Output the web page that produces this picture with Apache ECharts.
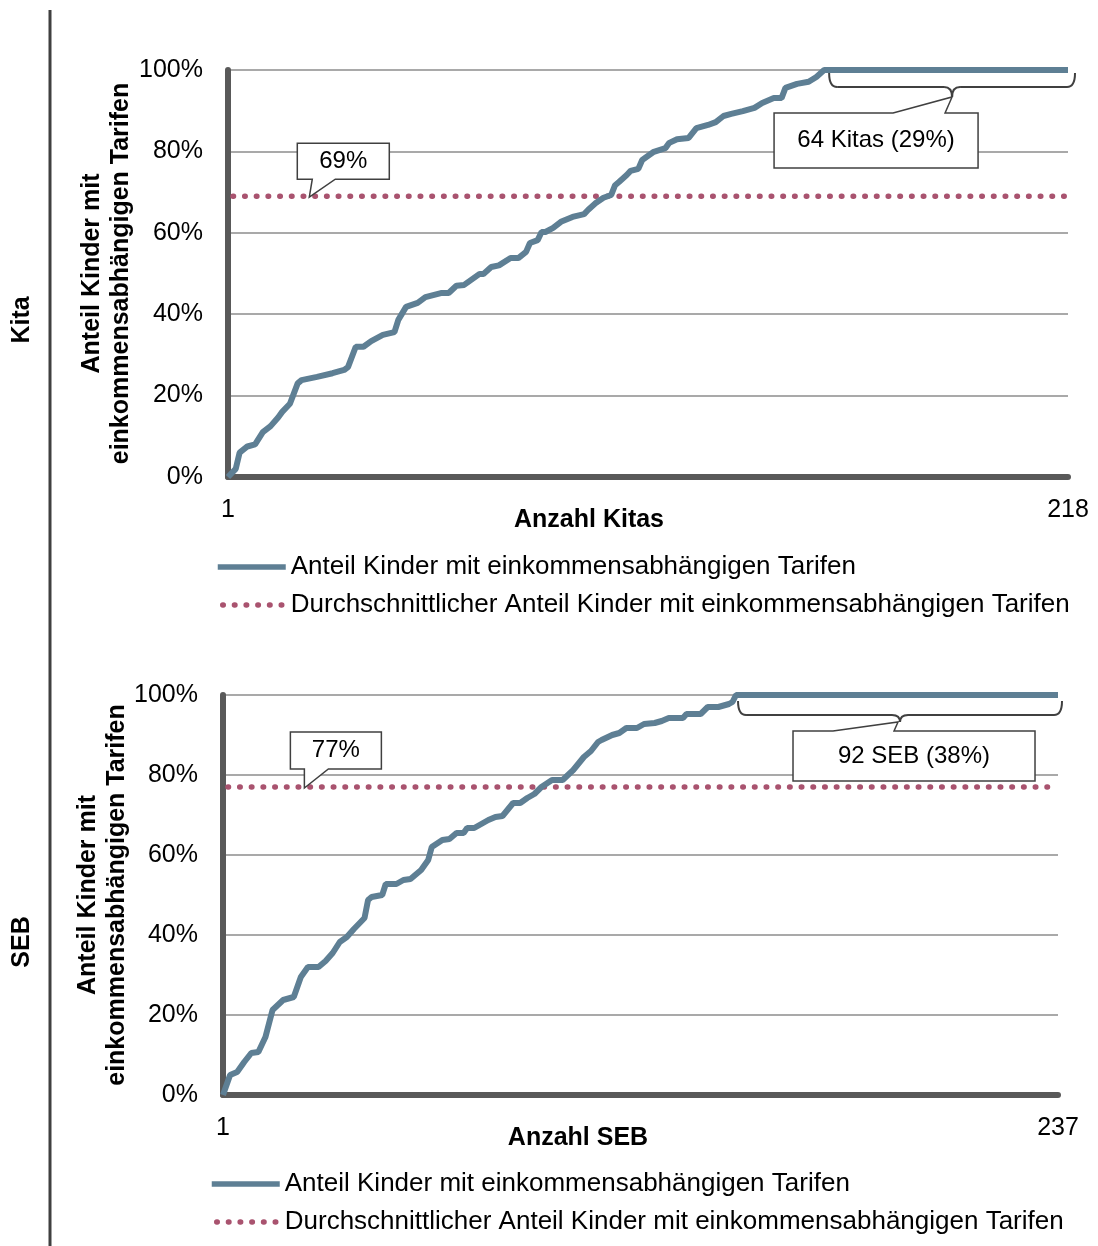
<!DOCTYPE html>
<html>
<head>
<meta charset="utf-8">
<script src="https://cdn.jsdelivr.net/npm/echarts@6/dist/echarts.min.js"></script>
<style>html,body{margin:0;padding:0;background:#fff}#c{width:1098px;height:1246px}</style>
</head>
<body>
<div id="c"></div>
<script>
// ---------- data ----------
const seriesNames = ['Anteil Kinder mit einkommensabhängigen Tarifen',
                     'Durchschnittlicher Anteil Kinder mit einkommensabhängigen Tarifen'];
const panelLabels = ['Kita', 'SEB'];
const yAxisTitle = 'Anteil Kinder mit\neinkommensabhängigen Tarifen';
const xAxisTitles = ['Anzahl Kitas', 'Anzahl SEB'];

const kitaCount = 218;
const kitaMean = 69;
const kitaN = [1,3,4,6,8,10,12,14,15,17,19,20,24,28,31,32,34,36,38,41,44,45,47,50,52,56,58,60,62,66,67,69,71,74,76,78,79,81,82,83,85,87,90,93,94,96,98,100,101,102,104,105,107,108,111,114,115,117,120,122,125,127,129,131,134,137,139,142,144,145,148,151,153,155,218];
const kitaShare = [0,2,6,7.5,8,11,12.5,14.7,16,18,23,23.8,24.6,25.5,26.3,27,32,32,33.4,34.9,35.6,38.6,41.8,42.8,44.2,45.2,45.2,47,47.2,49.9,49.9,51.6,52,53.8,53.8,55.3,57.5,58.2,60.2,60.2,61.2,62.7,63.9,64.6,65.6,67.3,68.6,69.3,71.7,72.5,74.2,75.2,75.7,77.9,79.9,80.8,82.1,83,83.3,85.7,86.5,87.2,88.7,89.2,89.9,90.7,91.9,93.1,93.1,95.6,96.6,97.1,98.3,100,100];
const kitaFullStart = 155;
const kitaCallout = '64 Kitas (29%)';

const sebCount = 237;
const sebMean = 77;
const sebN = [1,3,5,7,9,11,13,15,18,21,23,25,28,30,32,34,36,38,41,42,43,46,47,50,52,54,57,59,60,63,65,67,69,70,72,75,76,78,80,83,85,87,89,91,94,97,100,103,105,107,108,111,113,115,118,120,123,125,127,131,132,136,138,141,144,145,146,237];
const sebShare = [0,5,5.75,8.25,10.5,10.75,14.5,21.25,23.75,24.5,29.5,32,32,33.5,35.5,38.25,39.5,41.5,44.25,48.75,49.5,50,52.75,52.75,53.75,54,56.25,58.75,62,63.75,64,65.5,65.5,66.75,66.75,68.25,68.75,69.5,69.75,73,73,74.25,75.25,77,78.75,78.75,81.25,84.5,86,88.25,88.75,90,90.5,91.75,91.75,92.75,93,93.5,94.25,94.25,95.25,95.25,97,97,97.75,98.25,100,100];
const sebFullStart = 146;
const sebCallout = '92 SEB (38%)';

const yTicks = [0, 20, 40, 60, 80, 100];

// ---------- styling ----------
const FF = '"Liberation Sans", Arial, Helvetica, sans-serif';
const LINE_C = '#5E7F94';
const MEAN_C = '#A9536F';
const AXIS_C = '#595959';
const GRID_C = '#8c8c8c';
const DARK = '#404040';

const zip = (a, b) => a.map((v, i) => [v, b[i]]);

function xAx(gi, max, name, padRight) {
  return {
    type: 'value', gridIndex: gi, min: 1, max: max,
    axisLine: { show: true, onZero: false, lineStyle: { color: AXIS_C, width: 6 } },
    axisTick: { show: false }, splitLine: { show: false },
    axisLabel: { customValues: [1, max], margin: 21, fontSize: 25, color: '#000', fontFamily: FF },
    name: name, nameLocation: 'middle', nameGap: 31, nameMoveOverlap: false,
    nameTextStyle: { fontWeight: 'bold', fontSize: 25, color: '#000', fontFamily: FF, padding: [0, padRight, 0, 0] }
  };
}
function yAx(gi, gap) {
  return {
    type: 'value', gridIndex: gi, min: yTicks[0], max: yTicks[yTicks.length - 1], interval: 20,
    axisLine: { show: true, onZero: false, lineStyle: { color: AXIS_C, width: 6 } },
    axisTick: { show: false },
    splitLine: { show: true, lineStyle: { color: GRID_C, width: 1.5 } },
    axisLabel: { formatter: '{value}%', fontSize: 25, margin: 25, color: '#000', fontFamily: FF },
    name: yAxisTitle, nameLocation: 'middle', nameGap: gap, nameMoveOverlap: false,
    nameTextStyle: { fontWeight: 'bold', fontSize: 25, lineHeight: 29, color: '#000', fontFamily: FF }
  };
}
function legend(left, top) {
  return {
    orient: 'vertical', left: left, top: top, padding: 0, itemWidth: 68, itemHeight: 14, itemGap: 12,
    selectedMode: false, data: seriesNames,
    lineStyle: { width: 5.5 },
    itemStyle: { opacity: 0 },
    textStyle: { fontSize: 26, color: '#000', fontFamily: FF }
  };
}
function curve(gi, data) {
  return { type: 'line', name: seriesNames[0], xAxisIndex: gi, yAxisIndex: gi, data: data,
    symbol: 'none', clip: false, z: 3,
    lineStyle: { color: LINE_C, width: 6 }, itemStyle: { color: LINE_C } };
}
function meanLine(gi, count, mean) {
  return { type: 'line', name: seriesNames[1], xAxisIndex: gi, yAxisIndex: gi,
    data: [[1, mean], [count, mean]], symbol: 'none', clip: false, z: 2,
    lineStyle: { color: MEAN_C, width: 5.5, type: [0.5, 11.2], cap: 'round', dashOffset: -5 }, itemStyle: { color: MEAN_C } };
}

const chart = echarts.init(document.getElementById('c'));
chart.setOption({
  animation: false,
  textStyle: { fontFamily: FF },
  grid: [
    { left: 228, top: 70, width: 840, height: 407 },
    { left: 223, top: 695, width: 835, height: 400 }
  ],
  xAxis: [xAx(0, kitaCount, xAxisTitles[0], 118), xAx(1, sebCount, xAxisTitles[1], 125)],
  yAxis: [yAx(0, 92), yAx(1, 91)],
  legend: [legend(215, 554), legend(209, 1171)],
  series: [
    curve(0, zip(kitaN, kitaShare)), meanLine(0, kitaCount, kitaMean),
    curve(1, zip(sebN, sebShare)), meanLine(1, sebCount, sebMean)
  ]
});

// ---------- annotations ----------
const px = (g, x, y) => chart.convertToPixel({ gridIndex: g }, [x, y]);
const els = [];
els.push({ type: 'line', shape: { x1: 50, y1: 10, x2: 50, y2: 1246 }, style: { stroke: DARK, lineWidth: 3 } });
els.push({ type: 'text', x: 22, y: 320, rotation: Math.PI / 2,
  style: { text: panelLabels[0], font: 'bold 25px ' + FF, fill: '#000', align: 'center', verticalAlign: 'middle' } });
els.push({ type: 'text', x: 22, y: 942, rotation: Math.PI / 2,
  style: { text: panelLabels[1], font: 'bold 25px ' + FF, fill: '#000', align: 'center', verticalAlign: 'middle' } });

function callout(pts, cx, cy, text) {
  els.push({ type: 'polygon', shape: { points: pts }, style: { fill: '#fff', stroke: DARK, lineWidth: 1.5 }, z: 10 });
  els.push({ type: 'text', x: cx, y: cy, z: 11,
    style: { text: text, font: '24px ' + FF, fill: '#000', align: 'center', verticalAlign: 'middle' } });
}
function brace(x1, x2, top, base, tip) {
  const r = 8, m = (x1 + x2) / 2;
  const st = { stroke: DARK, lineWidth: 2, fill: null };
  const segs = [
    { type: 'bezierCurve', shape: { x1: x1, y1: top, cpx1: x1, cpy1: base, x2: x1 + r, y2: base } },
    { type: 'line', shape: { x1: x1 + r, y1: base, x2: m - r, y2: base } },
    { type: 'bezierCurve', shape: { x1: m - r, y1: base, cpx1: m, cpy1: base, x2: m, y2: tip } },
    { type: 'bezierCurve', shape: { x1: m, y1: tip, cpx1: m, cpy1: base, x2: m + r, y2: base } },
    { type: 'line', shape: { x1: m + r, y1: base, x2: x2 - r, y2: base } },
    { type: 'bezierCurve', shape: { x1: x2 - r, y1: base, cpx1: x2, cpy1: base, x2: x2, y2: top } }
  ];
  segs.forEach(s => { s.style = st; s.z = 10; els.push(s); });
  return m;
}

// mean callouts (tail pointing down to the dotted line)
{
  const t = px(0, 22, kitaMean);
  const L = t[0] - 12, R = t[0] + 80, T = t[1] - 53, B = t[1] - 17;
  callout([[L, T], [R, T], [R, B], [t[0] + 26, B], [t[0], t[1] + 1], [t[0] + 3, B], [L, B]], (L + R) / 2, (T + B) / 2, kitaMean + '%');
}
{
  const t = px(1, 24, sebMean);
  const L = t[0] - 14, R = t[0] + 77, T = t[1] - 55, B = t[1] - 18;
  callout([[L, T], [R, T], [R, B], [t[0] + 24, B], [t[0], t[1] + 1], [t[0], B], [L, B]], (L + R) / 2, (T + B) / 2, sebMean + '%');
}
// full-share braces + callouts
{
  const a = px(0, kitaFullStart, 100), b = px(0, kitaCount, 100);
  const top = a[1] + 3, base = top + 14, tip = base + 10;
  const m = brace(a[0] + 5, b[0] + 7, top, base, tip);
  const L = m - 178, R = m + 26, T = tip + 16, B = tip + 71;
  callout([[L, T], [m - 59, T], [m, tip], [m - 7, T], [R, T], [R, B], [L, B]], (L + R) / 2, (T + B) / 2, kitaCallout);
}
{
  const a = px(1, sebFullStart, 100), b = px(1, sebCount, 100);
  const top = a[1] + 6, base = top + 14, tip = base + 7;
  const m = brace(a[0] + 2, b[0] + 4, top, base, tip);
  const L = m - 107, R = m + 135, T = tip + 9, B = tip + 59;
  callout([[L, T], [m - 67, T], [m - 2, tip], [m - 6, T], [R, T], [R, B], [L, B]], (L + R) / 2, (T + B) / 2, sebCallout);
}
chart.setOption({ graphic: els });
</script>
</body>
</html>
